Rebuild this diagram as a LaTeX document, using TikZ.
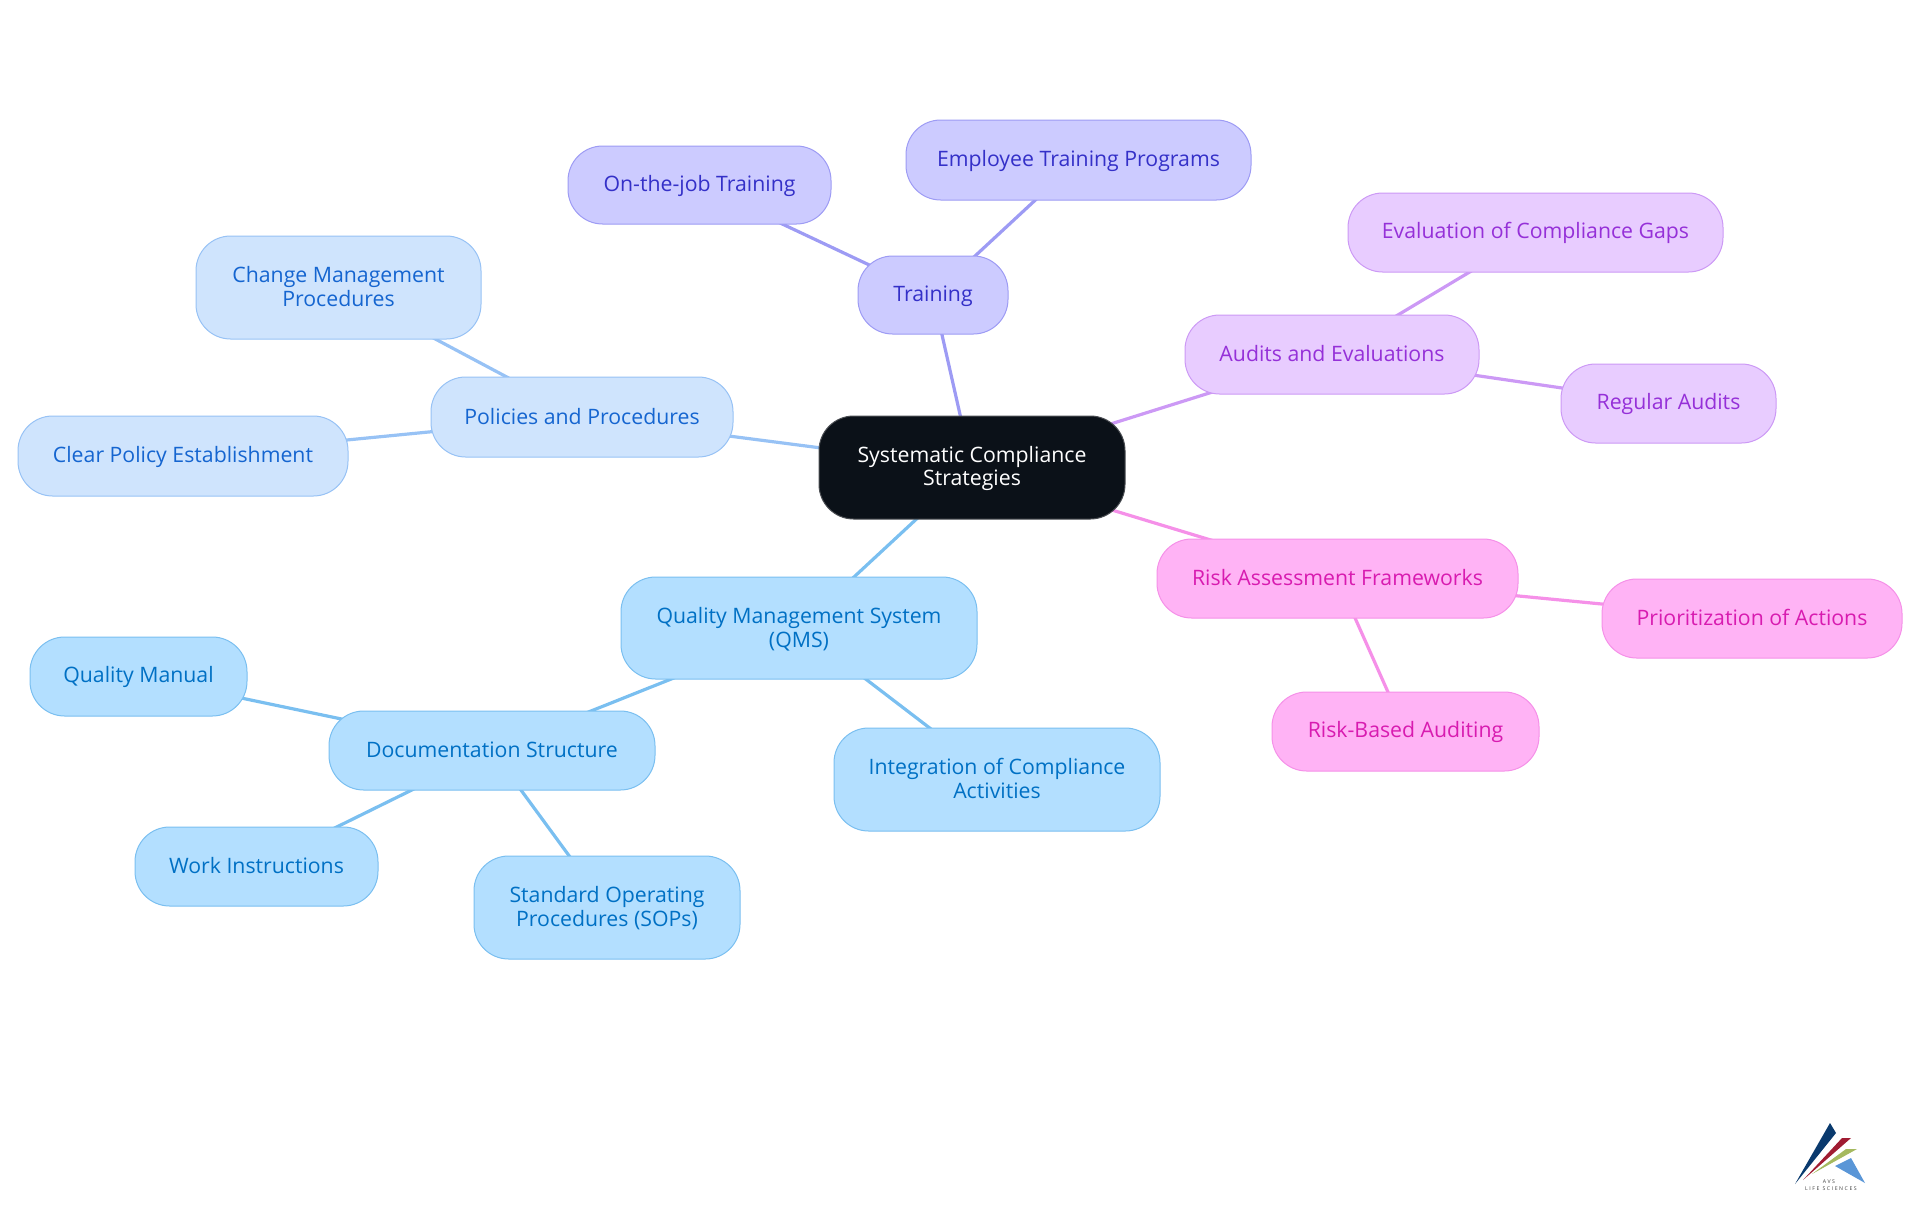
\documentclass[tikz,border=0pt]{standalone}
\usepackage{fontspec}
\setmainfont{Open Sans}
\usetikzlibrary{backgrounds}
\definecolor{rootfill}{HTML}{0B1118}
\definecolor{rootline}{HTML}{4A4D52}
\definecolor{qfill}{HTML}{B3DFFF}\definecolor{qline}{HTML}{7ABFF0}\definecolor{qtext}{HTML}{0070C4}
\definecolor{pfill}{HTML}{CFE4FD}\definecolor{pline}{HTML}{97C2F5}\definecolor{ptext}{HTML}{1565D0}
\definecolor{tfill}{HTML}{CCCBFF}\definecolor{tline}{HTML}{9D9BF4}\definecolor{ttext}{HTML}{3430C8}
\definecolor{afill}{HTML}{E8CCFF}\definecolor{aline}{HTML}{CC99F5}\definecolor{atext}{HTML}{9530D8}
\definecolor{rfill}{HTML}{FFB3F5}\definecolor{rline}{HTML}{F590E8}\definecolor{rtext}{HTML}{D81BB0}
\newcommand\st{\rule[-.16em]{0pt}{1.01em}}
\tikzset{
  box/.style={rounded corners=26pt,inner sep=0pt,align=center,line width=0.75pt,
     font=\fontsize{15.95}{17.8}\selectfont},
  rootbox/.style={box,fill=rootfill,draw=rootline,text=white},
  qbox/.style={box,fill=qfill,draw=qline,text=qtext},
  pbox/.style={box,fill=pfill,draw=pline,text=ptext},
  tbox/.style={box,fill=tfill,draw=tline,text=ttext},
  abox/.style={box,fill=afill,draw=aline,text=atext},
  rbox/.style={box,fill=rfill,draw=rline,text=rtext},
  qedge/.style={draw=qline,line width=2.4pt},
  pedge/.style={draw=pline,line width=2.4pt},
  tedge/.style={draw=tline,line width=2.4pt},
  aedge/.style={draw=aline,line width=2.4pt},
  redge/.style={draw=rline,line width=2.4pt},
  logotext/.style={inner sep=0pt,text=black!75,font=\fontsize{3.9}{4.5}\selectfont\addfontfeature{LetterSpace=30}},
}
\newcommand\mnode[7]{%
  \pgfmathsetmacro\mw{(#5-#3)*0.75}\pgfmathsetmacro\mh{(#6-#4)*0.75}%
  \pgfmathsetmacro\mx{(#3+#5)/2}\pgfmathsetmacro\my{(#4+#6)/2}%
  \node[#1,minimum width=\mw pt,minimum height=\mh pt] (#2) at (\mx,\my) {#7};}
\begin{document}
\begin{tikzpicture}[x=0.75pt,y=-0.75pt]
\useasboundingbox (0,0) rectangle (1920,1215);
\mnode{rootbox}{root}{819}{416}{1125}{519}{\st Systematic Compliance\\\st Strategies}
\mnode{qbox}{qms}{621}{577}{977}{679}{\st Quality Management System\\\st (QMS)}
\mnode{qbox}{integ}{834}{728}{1160}{831}{\st Integration of Compliance\\\st Activities}
\mnode{qbox}{doc}{329}{711}{655}{790}{\st Documentation Structure}
\mnode{qbox}{manual}{30}{637}{247}{716}{\st Quality Manual}
\mnode{qbox}{work}{135}{827}{378}{906}{\st Work Instructions}
\mnode{qbox}{sop}{474}{856}{740}{959}{\st Standard Operating\\\st Procedures (SOPs)}
\mnode{pbox}{pol}{431}{377}{733}{457}{\st Policies and Procedures}
\mnode{pbox}{change}{196}{236}{481}{339}{\st Change Management\\\st Procedures}
\mnode{pbox}{clear}{18}{416}{348}{496}{\st Clear Policy Establishment}
\mnode{tbox}{train}{858}{256}{1008}{334}{\st Training}
\mnode{tbox}{job}{568}{146}{831}{224}{\st On-the-job Training}
\mnode{tbox}{emp}{906}{120}{1251}{200}{\st Employee Training Programs}
\mnode{abox}{aud}{1185}{315}{1479}{394}{\st Audits and Evaluations}
\mnode{abox}{gaps}{1348}{193}{1723}{272}{\st Evaluation of Compliance Gaps}
\mnode{abox}{reg}{1561}{364}{1776}{443}{\st Regular Audits}
\mnode{rbox}{risk}{1157}{539}{1518}{618}{\st Risk Assessment Frameworks}
\mnode{rbox}{prio}{1602}{579}{1902}{658}{\st Prioritization of Actions}
\mnode{rbox}{based}{1272}{692}{1539}{771}{\st Risk-Based Auditing}
\begin{scope}[on background layer]
\draw[qedge] (root.center) -- (qms.center);
\draw[qedge] (qms.center) -- (integ.center);
\draw[qedge] (qms.center) -- (doc.center);
\draw[qedge] (doc.center) -- (manual.center);
\draw[qedge] (doc.center) -- (work.center);
\draw[qedge] (doc.center) -- (sop.center);
\draw[pedge] (root.center) -- (pol.center);
\draw[pedge] (pol.center) -- (change.center);
\draw[pedge] (pol.center) -- (clear.center);
\draw[tedge] (root.center) -- (train.center);
\draw[tedge] (train.center) -- (job.center);
\draw[tedge] (train.center) -- (emp.center);
\draw[aedge] (root.center) -- (aud.center);
\draw[aedge] (aud.center) -- (gaps.center);
\draw[aedge] (aud.center) -- (reg.center);
\draw[redge] (root.center) -- (risk.center);
\draw[redge] (risk.center) -- (prio.center);
\draw[redge] (risk.center) -- (based.center);
\end{scope}
% logo
\fill[fill={rgb,255:red,10;green,58;blue,110}] (1795,1184) -- (1830,1123) -- (1836,1133) -- cycle;
\fill[fill={rgb,255:red,160;green,28;blue,50}] (1803,1180) -- (1842,1138) -- (1851,1138) -- cycle;
\fill[fill={rgb,255:red,165;green,185;blue,95}] (1812,1174) -- (1846,1149) -- (1857,1149) -- cycle;
\fill[fill={rgb,255:red,90;green,150;blue,215}] (1835,1166) -- (1851,1158) -- (1865,1183) -- cycle;
\node[logotext] (avs) at (1829,1182) {AVS};
\node[logotext] (life) at (1831,1189) {LIFE SCIENCES};
\end{tikzpicture}
\end{document}
